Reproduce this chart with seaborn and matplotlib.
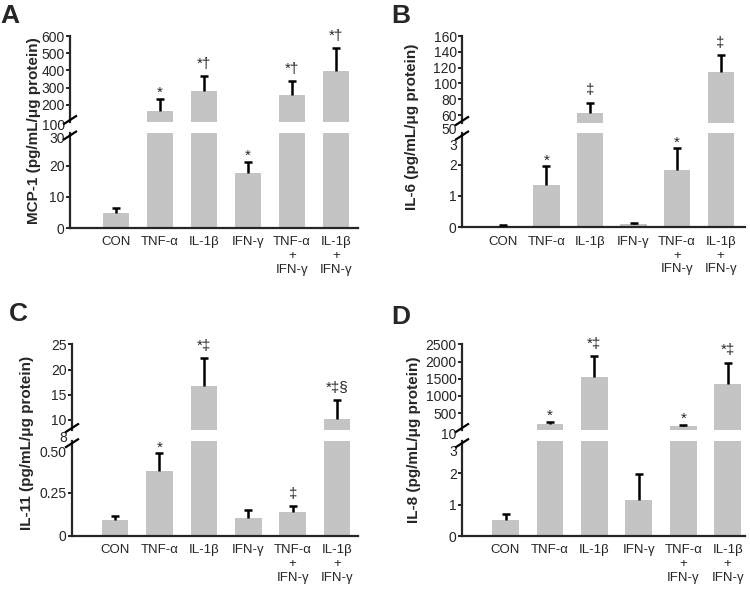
import numpy as np
import pandas as pd
import matplotlib
matplotlib.use("Agg")
import matplotlib.pyplot as plt
import seaborn as sns
from matplotlib.lines import Line2D
from matplotlib.transforms import ScaledTranslation

# ---------------- data ----------------
categories = ["CON", "TNF-α", "IL-1β", "IFN-γ", "TNF-α\n+\nIFN-γ", "IL-1β\n+\nIFN-γ"]

mcp1_mean = [4.7, 165, 282, 17.8, 257, 396]
mcp1_sem = [1.9, 67, 85, 3.4, 81, 132]
mcp1_sig = ["", "*", "*†", "*", "*†", "*†"]

il6_mean = [0.05, 1.35, 63, 0.10, 1.82, 115]
il6_sem = [0.03, 0.59, 12.7, 0.05, 0.69, 21]
il6_sig = ["", "*", "‡", "", "*", "‡"]

il11_mean = [0.091, 0.378, 16.8, 0.105, 0.136, 10.1]
il11_sem = [0.025, 0.10, 5.4, 0.044, 0.037, 3.85]
il11_sig = ["", "*", "*‡", "", "‡", "*‡§"]

il8_mean = [0.52, 185, 1540, 1.14, 126, 1340]
il8_sem = [0.18, 57, 620, 0.83, 28, 630]
il8_sig = ["", "*", "*‡", "", "*", "*‡"]

mcp1_upper_ticks = [100, 200, 300, 400, 500, 600]
mcp1_lower_ticks = [0, 10, 20, 30]
il6_upper_ticks = [50, 60, 80, 100, 120, 140, 160]
il6_lower_ticks = [0, 1, 2, 3]
il11_upper_ticks = [8, 10, 15, 20, 25]
il11_lower_ticks = [0, 0.25, 0.50]
il11_lower_labels = ["0", "0.25", "0.50"]
il8_upper_ticks = [10, 500, 1000, 1500, 2000, 2500]
il8_lower_ticks = [0, 1, 2, 3]

# ---------------- style ----------------
sns.set_style("ticks")
plt.rcParams["font.family"] = ["Liberation Sans", "DejaVu Sans"]

W, H = 750, 591
fig = plt.figure(figsize=(7.5, 5.91), dpi=100)
BAR = "#c4c4c4"
SPINE_LW = 1.6
TICK_LEN = 3.2
TICK_PAD = 0.6


def rect(x0, x1, ytop, ybot):
    return [x0 / W, 1 - ybot / H, (x1 - x0) / W, (ybot - ytop) / H]


panels = [
    dict(letter="A", ylabel="MCP-1 (pg/mL/μg protein)", mean=mcp1_mean, sem=mcp1_sem, sig=mcp1_sig,
         x=(70, 358), up=(36, 122), lo=(133, 228), xlim=(-1.045, 5.5),
         up_lim=(100, 600), up_ticks=mcp1_upper_ticks, lo_lim=(0, 30.6), lo_ticks=mcp1_lower_ticks,
         lo_labels=None, shift=(3, 3), letter_xy=(0, 4), ylabel_xy=(34, 131)),
    dict(letter="B", ylabel="IL-6 (pg/mL/μg protein)", mean=il6_mean, sem=il6_sem, sig=il6_sig,
         x=(462, 745), up=(36, 123), lo=(133, 227.5), xlim=(-0.94, 5.56),
         up_lim=(50, 160), up_ticks=il6_upper_ticks, lo_lim=(0, 3), lo_ticks=il6_lower_ticks,
         lo_labels=None, shift=(5, 11), letter_xy=(391, 4), ylabel_xy=(412, 127)),
    dict(letter="C", ylabel="IL-11 (pg/mL/μg protein)", mean=il11_mean, sem=il11_sem, sig=il11_sig,
         x=(72, 358), up=(344.3, 430), lo=(440.7, 535.7), xlim=(-0.97, 5.47),
         up_lim=(8, 25), up_ticks=il11_upper_ticks, lo_lim=(0, 0.552), lo_ticks=il11_lower_ticks,
         lo_labels=il11_lower_labels, shift=(6.5, 2), letter_xy=(9, 302), ylabel_xy=(27, 443)),
    dict(letter="D", ylabel="IL-8 (pg/mL/μg protein)", mean=il8_mean, sem=il8_sem, sig=il8_sig,
         x=(462, 745), up=(344.3, 430), lo=(440.7, 536), xlim=(-0.98, 5.39),
         up_lim=(10, 2500), up_ticks=il8_upper_ticks, lo_lim=(0, 3.03), lo_ticks=il8_lower_ticks,
         lo_labels=None, shift=(3.5, 8.5), letter_xy=(391, 305), ylabel_xy=(414, 440)),
]


def slash(xc, yc):
    hw, hr = 7, 4.5
    fig.add_artist(Line2D([(xc - hw) / W, (xc + hw) / W],
                          [1 - (yc + hr) / H, 1 - (yc - hr) / H],
                          transform=fig.transFigure, color="black", lw=SPINE_LW,
                          solid_capstyle="butt"))


def shift_minor_labels(ax, px):
    for lab in ax.get_yminorticklabels():
        lab.set_transform(lab.get_transform() +
                          ScaledTranslation(0, -px / 100.0, fig.dpi_scale_trans))


for p in panels:
    df = pd.DataFrame({"cat": categories, "val": p["mean"]})
    ax_up = fig.add_axes(rect(p["x"][0], p["x"][1], p["up"][0], p["up"][1]))
    ax_lo = fig.add_axes(rect(p["x"][0], p["x"][1], p["lo"][0], p["lo"][1]))
    for ax, lim in ((ax_up, p["up_lim"]), (ax_lo, p["lo_lim"])):
        sns.barplot(data=df, x="cat", y="val", ax=ax, color=BAR, width=0.6,
                    saturation=1, errorbar=None, linewidth=0)
        ax.set_ylim(*lim)
        ax.set_xlim(*p["xlim"])
        ax.set_xlabel("")
        ax.set_ylabel("")
        ax.patch.set_alpha(0)
        for s in ("top", "right"):
            ax.spines[s].set_visible(False)
        ax.spines["left"].set_linewidth(SPINE_LW)
        ax.spines["bottom"].set_linewidth(SPINE_LW)
        ax.tick_params(axis="y", which="major", length=TICK_LEN, width=1.4,
                       labelsize=10, pad=TICK_PAD)
        ax.tick_params(axis="y", which="minor", length=0, labelsize=10,
                       pad=TICK_LEN + TICK_PAD)

    # upper axis
    ax_up.spines["bottom"].set_visible(False)
    ax_up.set_xticks([])
    ut = p["up_ticks"]
    ax_up.set_yticks(ut[1:], labels=[str(t) for t in ut[1:]])
    ax_up.set_yticks([ut[0]], labels=[str(ut[0])], minor=True)

    # lower axis
    lt = p["lo_ticks"]
    ll = p["lo_labels"] if p["lo_labels"] else [str(t) for t in lt]
    ax_lo.set_yticks(lt[:-1], labels=ll[:-1])
    ax_lo.set_yticks([lt[-1]], labels=[ll[-1]], minor=True)
    ax_lo.set_xticks(range(len(categories)), labels=categories)
    ax_lo.tick_params(axis="x", length=0, labelsize=9.5, pad=6)

    shift_minor_labels(ax_up, p["shift"][0])
    shift_minor_labels(ax_lo, p["shift"][1])

    # error bars (upper half only) + significance labels
    for i, (m, e, s) in enumerate(zip(p["mean"], p["sem"], p["sig"])):
        ax = ax_up if m >= p["up_lim"][0] else ax_lo
        _, caps, _ = ax.errorbar([i], [m], yerr=[[0], [e]], fmt="none", ecolor="black",
                                 elinewidth=1.8, capsize=3.0, capthick=1.8, zorder=3)
        for c in caps:
            if np.allclose(c.get_ydata(), m):
                c.set_visible(False)
        if s:
            off = 1.5 if s == "*" else 6
            ax.annotate(s, xy=(i, m + e), xytext=(0, off), textcoords="offset points",
                        ha="center", va="baseline", fontsize=11, annotation_clip=False)

    # axis-break marks
    slash(p["x"][0], p["up"][1] - 2)
    slash(p["x"][0], p["lo"][0] + 2.5)

    # y label and panel letter
    fig.text(p["ylabel_xy"][0] / W, 1 - p["ylabel_xy"][1] / H, p["ylabel"], rotation=90,
             ha="center", va="center", fontsize=11, fontweight="bold")
    fig.text(p["letter_xy"][0] / W, 1 - p["letter_xy"][1] / H, p["letter"],
             ha="left", va="top", fontsize=19, fontweight="bold")

fig.savefig("out.png", dpi=100)
